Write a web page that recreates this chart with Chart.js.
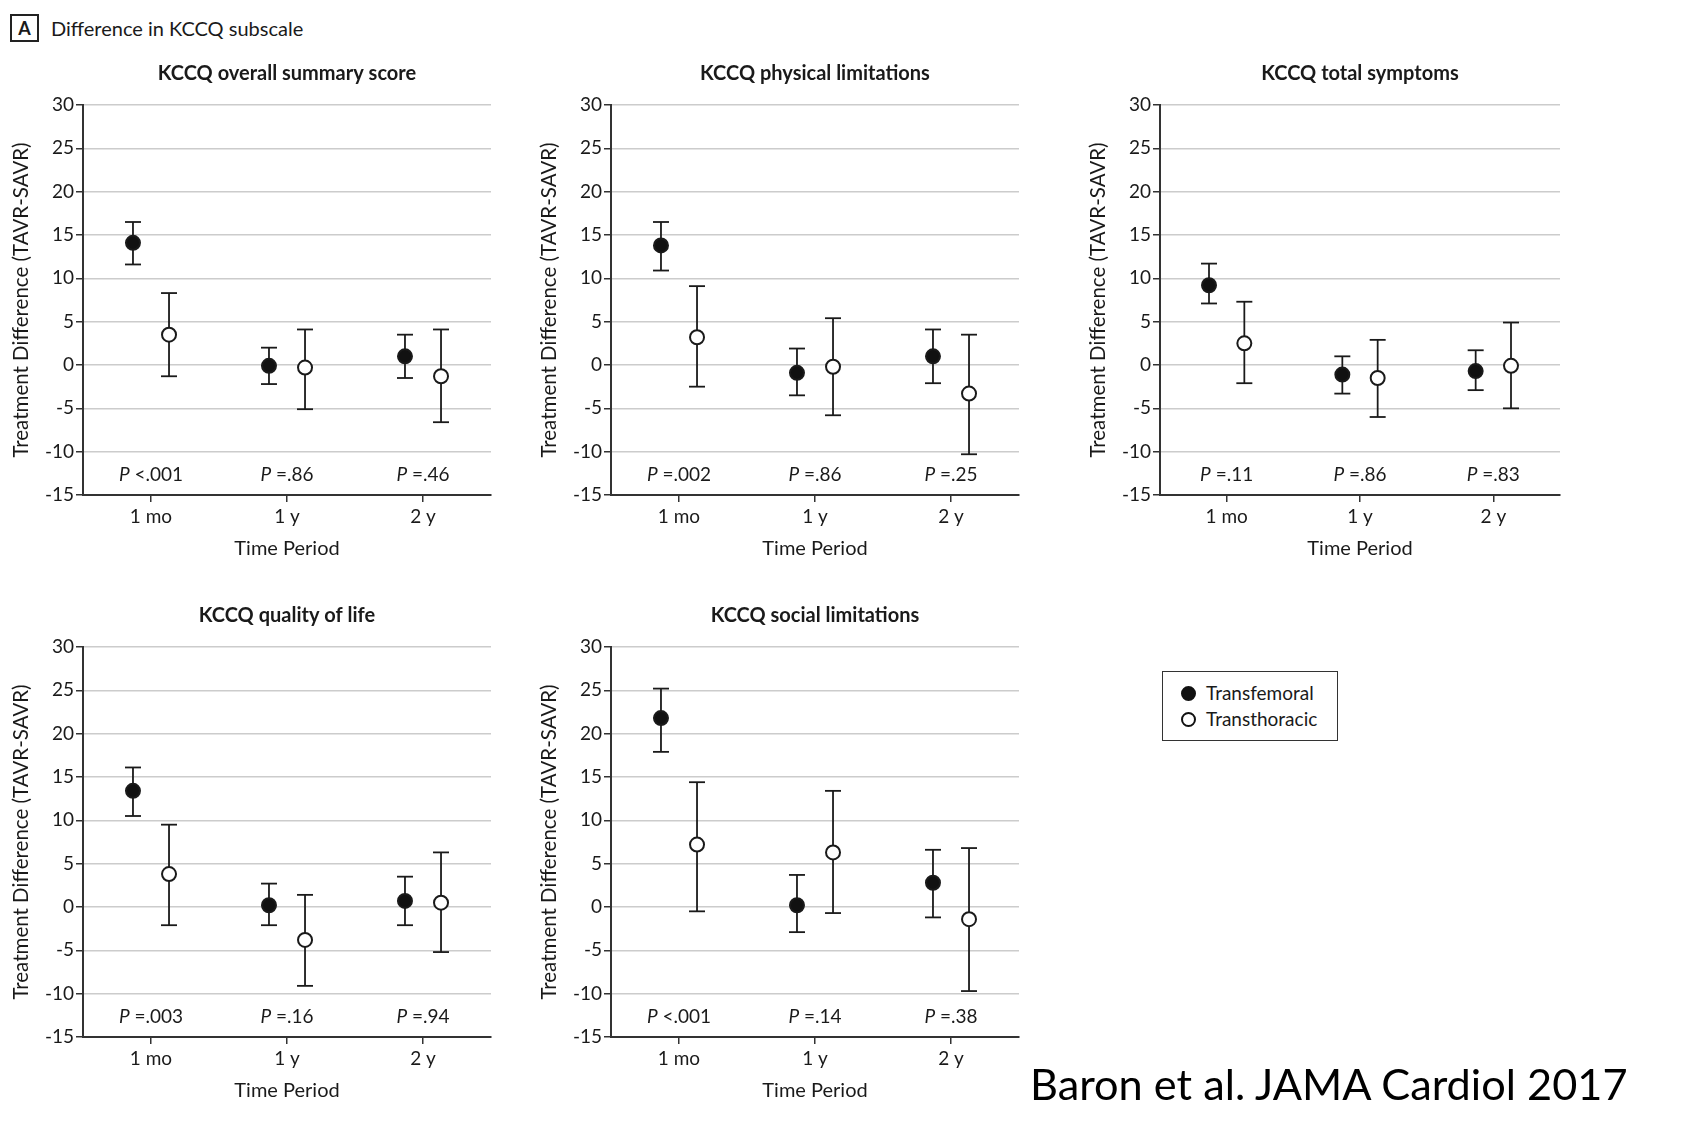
<!DOCTYPE html>
<html lang="en">
<head>
<meta charset="UTF-8">
<title>Difference in KCCQ subscale</title>
<script src="https://cdn.jsdelivr.net/npm/chart.js"></script>
<style>
  body { margin: 0; width: 1691px; height: 1124px; background: #fff; position: relative; overflow: hidden; font-family: Lato, 'Liberation Sans', sans-serif; color: #1a1a1a; }
  .panel { position: absolute; width: 560px; height: 530px; }
  #header { position: absolute; left: 10px; top: 14px; font-size: 20px; display: flex; align-items: center; }
  #header .tag { display: inline-block; width: 25px; height: 24px; border: 2px solid #222; font-weight: bold; text-align: center; line-height: 24px; margin-right: 12px; font-size: 18px; }
  #legend { position: absolute; left: 1162px; top: 671px; width: 176px; height: 70px; box-sizing: border-box; border: 1.5px solid #333; padding: 8px 0 0 18px; font-size: 19px; line-height: 26px; }
  #legend .dot { display: inline-block; width: 11px; height: 11px; border-radius: 50%; border: 2px solid #111; margin-right: 10px; vertical-align: -1px; }
  #cite { position: absolute; left: 1030px; top: 1057px; font-size: 43.3px; white-space: nowrap; color: #000; }
</style>
</head>
<body>
<div id="header"><span class="tag">A</span>Difference in KCCQ subscale</div>

<div class="panel" style="left:0;top:40px"><canvas id="overall" width="560" height="530"></canvas></div>
<div class="panel" style="left:528px;top:40px"><canvas id="physical" width="560" height="530"></canvas></div>
<div class="panel" style="left:1077px;top:40px"><canvas id="symptoms" width="560" height="530"></canvas></div>
<div class="panel" style="left:0;top:582px"><canvas id="quality" width="560" height="530"></canvas></div>
<div class="panel" style="left:528px;top:582px"><canvas id="social" width="560" height="530"></canvas></div>

<div id="legend">
  <div><span class="dot" style="background:#111"></span>Transfemoral</div>
  <div><span class="dot" style="background:#fff"></span>Transthoracic</div>
</div>
<div id="cite">Baron et al. JAMA Cardiol 2017</div>

<script>
// time points on the x axis
const periods = ['1 mo', '1 y', '2 y'];
const yTicks = [30, 25, 20, 15, 10, 5, 0, -5, -10, -15];

// each row: [estimate, lower 95% CI, upper 95% CI]
const overallTransfemoral = [[14.1, 11.6, 16.5], [-0.1, -2.2, 2.0], [1.0, -1.5, 3.5]];
const overallTransthoracic = [[3.5, -1.3, 8.3], [-0.3, -5.1, 4.1], [-1.3, -6.6, 4.1]];
const overallP = ['<.001', '=.86', '=.46'];

const physicalTransfemoral = [[13.8, 10.9, 16.5], [-0.9, -3.5, 1.9], [1.0, -2.1, 4.1]];
const physicalTransthoracic = [[3.2, -2.5, 9.1], [-0.2, -5.8, 5.4], [-3.3, -10.3, 3.5]];
const physicalP = ['=.002', '=.86', '=.25'];

const symptomsTransfemoral = [[9.2, 7.1, 11.7], [-1.1, -3.3, 1.0], [-0.7, -2.9, 1.7]];
const symptomsTransthoracic = [[2.5, -2.1, 7.3], [-1.5, -6.0, 2.9], [-0.1, -5.0, 4.9]];
const symptomsP = ['=.11', '=.86', '=.83'];

const qualityTransfemoral = [[13.4, 10.5, 16.1], [0.2, -2.1, 2.7], [0.7, -2.1, 3.5]];
const qualityTransthoracic = [[3.8, -2.1, 9.5], [-3.8, -9.1, 1.4], [0.5, -5.2, 6.3]];
const qualityP = ['=.003', '=.16', '=.94'];

const socialTransfemoral = [[21.8, 17.9, 25.2], [0.2, -2.9, 3.7], [2.8, -1.2, 6.6]];
const socialTransthoracic = [[7.2, -0.5, 14.4], [6.3, -0.7, 13.4], [-1.4, -9.7, 6.8]];
const socialP = ['<.001', '=.14', '=.38'];

const FONT = "Lato, 'Liberation Sans', sans-serif";
const INK = '#1a1a1a';
Chart.defaults.font.family = FONT;
Chart.defaults.color = INK;

// caps, circles, panel title and P values
const errorMarks = {
  id: 'errorMarks',
  afterDatasetsDraw(chart) {
    const ctx = chart.ctx;
    const y = chart.scales.y;
    const area = chart.chartArea;
    ctx.save();
    chart.data.datasets.forEach((ds, di) => {
      chart.getDatasetMeta(di).data.forEach((bar, i) => {
        const row = ds.rows[i];
        ctx.strokeStyle = INK;
        ctx.lineWidth = 1.8;
        [row[1], row[2]].forEach(v => {
          const py = y.getPixelForValue(v);
          ctx.beginPath();
          ctx.moveTo(bar.x - 8, py);
          ctx.lineTo(bar.x + 8, py);
          ctx.stroke();
        });
        ctx.beginPath();
        ctx.arc(bar.x, y.getPixelForValue(row[0]), 7, 0, Math.PI * 2);
        ctx.fillStyle = ds.filled ? '#111' : '#fff';
        ctx.fill();
        ctx.lineWidth = 2;
        ctx.stroke();
      });
    });

    // title
    const opts = chart.options.plugins.errorMarks;
    ctx.fillStyle = INK;
    ctx.textAlign = 'center';
    ctx.textBaseline = 'middle';
    ctx.font = 'bold 20px ' + FONT;
    ctx.fillText(opts.title, (area.left + area.right) / 2, area.top - 31);

    // P values under each time point
    const x = chart.scales.x;
    opts.pValues.forEach((p, i) => {
      const cx = x.getPixelForValue(i);
      const cy = area.bottom - 20;
      ctx.font = 'italic 19px ' + FONT;
      const wP = ctx.measureText('P').width;
      ctx.font = '19px ' + FONT;
      const rest = ' ' + p;
      const wR = ctx.measureText(rest).width;
      const x0 = cx - (wP + wR) / 2;
      ctx.textAlign = 'left';
      ctx.font = 'italic 19px ' + FONT;
      ctx.fillText('P', x0, cy);
      ctx.font = '19px ' + FONT;
      ctx.fillText(rest, x0 + wP, cy);
    });
    ctx.restore();
  }
};

function makePanel(id, title, tf, tt, pValues, plotWidth) {
  const series = [
    { label: 'Transfemoral', rows: tf, filled: true },
    { label: 'Transthoracic', rows: tt, filled: false }
  ];
  new Chart(document.getElementById(id), {
    type: 'bar',
    data: {
      labels: periods,
      datasets: series.map(s => ({
        label: s.label,
        rows: s.rows,
        filled: s.filled,
        // whisker drawn as a thin floating bar from lower to upper CI
        data: s.rows.map(r => [r[1], r[2]]),
        backgroundColor: INK,
        borderWidth: 0,
        categoryPercentage: 0.53,
        barPercentage: 0.05
      }))
    },
    options: {
      responsive: false,
      animation: false,
      events: [],
      layout: { padding: { left: 0, top: 65, right: 560 - 83 - plotWidth, bottom: 0 } },
      plugins: {
        legend: { display: false },
        tooltip: { enabled: false },
        errorMarks: { title: title, pValues: pValues }
      },
      scales: {
        x: {
          offset: true,
          grid: { display: true, drawOnChartArea: false, drawTicks: true, tickLength: 7, tickColor: '#333', lineWidth: 1.5, offset: false },
          border: { display: true, color: '#333', width: 2 },
          ticks: { font: { size: 19 }, padding: 3, color: INK },
          title: { display: true, text: 'Time Period', font: { size: 20 }, padding: { top: 0, bottom: 9 }, color: INK },
          afterFit(scale) { scale.height = 75; }
        },
        y: {
          min: -15,
          max: 30,
          afterBuildTicks(scale) { scale.ticks = yTicks.map(v => ({ value: v })); },
          grid: { color: '#cccccc', lineWidth: 1.5, drawTicks: true, tickLength: 7, tickColor: '#333' },
          border: { display: true, color: '#333', width: 2 },
          ticks: { font: { size: 19 }, padding: 2, color: INK },
          title: { display: true, text: 'Treatment Difference (TAVR-SAVR)', font: { size: 20.5 }, padding: { top: 9, bottom: 0 }, color: INK },
          afterFit(scale) { scale.width = 83; }
        }
      }
    },
    plugins: [errorMarks]
  });
}

makePanel('overall', 'KCCQ overall summary score', overallTransfemoral, overallTransthoracic, overallP, 408);
makePanel('physical', 'KCCQ physical limitations', physicalTransfemoral, physicalTransthoracic, physicalP, 408);
makePanel('symptoms', 'KCCQ total symptoms', symptomsTransfemoral, symptomsTransthoracic, symptomsP, 400);
makePanel('quality', 'KCCQ quality of life', qualityTransfemoral, qualityTransthoracic, qualityP, 408);
makePanel('social', 'KCCQ social limitations', socialTransfemoral, socialTransthoracic, socialP, 408);
</script>
</body>
</html>
